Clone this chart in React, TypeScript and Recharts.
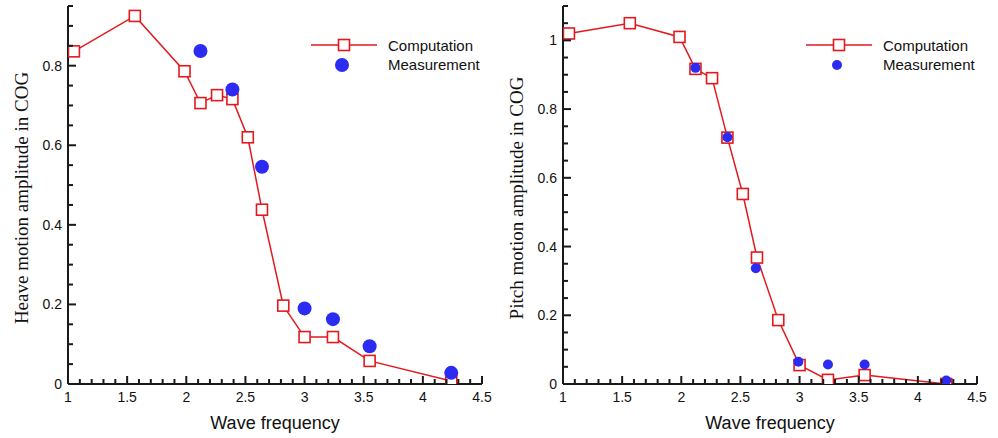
import { ComposedChart, Line, Scatter, XAxis, YAxis } from 'recharts'

const freqs = [1.05, 1.565, 1.985, 2.12, 2.26, 2.39, 2.52, 2.64, 2.82, 3.0, 3.24, 3.55, 4.24]
const heaveComp = [0.836, 0.925, 0.786, 0.706, 0.726, 0.716, 0.62, 0.438, 0.197, 0.118, 0.118, 0.058, 0.0075]
const pitchComp = [1.02, 1.05, 1.01, 0.917, 0.89, 0.717, 0.553, 0.368, 0.186, 0.055, 0.012, 0.026, 0.0]

const heaveMeasFreq = [2.12, 2.39, 2.64, 3.0, 3.24, 3.55, 4.24]
const heaveMeas = [0.837, 0.74, 0.546, 0.19, 0.163, 0.095, 0.028]
const pitchMeasFreq = [2.12, 2.39, 2.63, 2.99, 3.24, 3.55, 4.24]
const pitchMeas = [0.92, 0.718, 0.337, 0.065, 0.057, 0.057, 0.01]

const xTicks = [
  1, 1.1, 1.2, 1.3, 1.4, 1.5, 1.6, 1.7, 1.8, 1.9, 2, 2.1, 2.2, 2.3, 2.4, 2.5, 2.6, 2.7,
  2.8, 2.9, 3, 3.1, 3.2, 3.3, 3.4, 3.5, 3.6, 3.7, 3.8, 3.9, 4, 4.1, 4.2, 4.3, 4.4, 4.5,
]
const heaveTicks = [
  0, 0.05, 0.1, 0.15, 0.2, 0.25, 0.3, 0.35, 0.4, 0.45, 0.5, 0.55, 0.6, 0.65, 0.7, 0.75,
  0.8, 0.85, 0.9, 0.95,
]
const pitchTicks = [
  0, 0.05, 0.1, 0.15, 0.2, 0.25, 0.3, 0.35, 0.4, 0.45, 0.5, 0.55, 0.6, 0.65, 0.7, 0.75,
  0.8, 0.85, 0.9, 0.95, 1, 1.05, 1.1,
]

const RED = '#e3191e'
const BLUE = '#2b2bf2'
const AXIS = '#1a1a1a'
const SANS = '"Liberation Sans", Arial, sans-serif'
const SERIF = '"Liberation Serif", "Times New Roman", serif'

const onStep = (v: number, step: number) => Math.abs(v / step - Math.round(v / step)) < 1e-6

// tecplot style: ticks point into the plot
function XTick({ x, y, payload }: any) {
  const major = onStep(payload.value, 0.5)
  const len = major ? 8 : 5
  return (
    <g>
      <rect x={x - 1} y={y - len} width={2} height={len} fill={AXIS} />
      {major && (
        <text x={x} y={y + 18} textAnchor="middle" fontSize={14} fontFamily={SANS} fill="#111">
          {String(payload.value)}
        </text>
      )}
    </g>
  )
}

function YTick({ x, y, payload }: any) {
  const major = onStep(payload.value, 0.2)
  const len = major ? 8 : 5
  return (
    <g>
      <rect x={x} y={y - 1} width={len} height={2} fill={AXIS} />
      {major && (
        <text x={x - 6} y={y + 5} textAnchor="end" fontSize={14} fontFamily={SANS} fill="#111">
          {String(payload.value)}
        </text>
      )}
    </g>
  )
}

const Square = ({ cx, cy }: any) =>
  cx == null ? null : (
    <rect x={cx - 5.5} y={cy - 5.5} width={11} height={11} fill="#fff" stroke={RED} strokeWidth={1.6} />
  )

interface PanelProps {
  left: number
  comp: number[]
  measFreq: number[]
  meas: number[]
  yTicks: number[]
  yTitle: string
  dotR: number
  marginLeft: number
  marginRight: number
  legendX: number
}

const Y_AXIS_W = 40
const X_AXIS_H = 30

function Panel({ left, comp, measFreq, meas, yTicks, yTitle, dotR, marginLeft, marginRight, legendX }: PanelProps) {
  const compData = freqs.map((x, i) => ({ x, y: comp[i] }))
  const measData = measFreq.map((x, i) => ({ x, y: meas[i] }))
  const yMax = yTicks[yTicks.length - 1]

  return (
    <div style={{ position: 'absolute', left, top: 0, width: 499, height: 438 }}>
      <ComposedChart
        width={499}
        height={438}
        margin={{ top: 6, right: marginRight, bottom: 54 - X_AXIS_H, left: marginLeft - Y_AXIS_W }}
      >
        <XAxis
          type="number"
          dataKey="x"
          domain={[1, 4.5]}
          ticks={xTicks}
          interval={0}
          height={X_AXIS_H}
          tickSize={0}
          tickMargin={0}
          tick={(p: any) => <XTick {...p} />}
          axisLine={{ stroke: AXIS, strokeWidth: 2 }}
          allowDataOverflow
        />
        <YAxis
          type="number"
          dataKey="y"
          domain={[0, yMax]}
          ticks={yTicks}
          interval={0}
          width={Y_AXIS_W}
          tickSize={0}
          tickMargin={0}
          tick={(p: any) => <YTick {...p} />}
          axisLine={{ stroke: AXIS, strokeWidth: 2 }}
          allowDataOverflow
        />
        <Line
          data={compData}
          dataKey="y"
          stroke={RED}
          strokeWidth={1.5}
          dot={<Square />}
          activeDot={false}
          isAnimationActive={false}
        />
        <Scatter
          data={measData}
          dataKey="y"
          fill={BLUE}
          shape={(p: any) => <circle cx={p.cx} cy={p.cy} r={dotR} fill={BLUE} />}
          isAnimationActive={false}
        />
      </ComposedChart>

      <div
        style={{
          position: 'absolute', left: marginLeft - 46, top: 198, width: 0, height: 0,
        }}
      >
        <div
          style={{
            position: 'absolute', transform: 'translate(-50%, -50%) rotate(-90deg)',
            whiteSpace: 'nowrap', fontFamily: SERIF, fontSize: 19, color: '#111',
          }}
        >
          {yTitle}
        </div>
      </div>
      <div
        style={{
          position: 'absolute', left: marginLeft, width: 499 - marginLeft - marginRight, top: 413,
          textAlign: 'center', fontFamily: SANS, fontSize: 18, color: '#111',
        }}
      >
        Wave frequency
      </div>

      <svg style={{ position: 'absolute', left: legendX, top: 33 }} width={70} height={44}>
        <line x1={0} x2={66} y1={12} y2={12} stroke={RED} strokeWidth={1.5} />
        <rect x={27.5} y={6.5} width={11} height={11} fill="#fff" stroke={RED} strokeWidth={1.6} />
        <circle cx={31} cy={32} r={dotR} fill={BLUE} />
      </svg>
      <div
        style={{
          position: 'absolute', left: legendX + 77, top: 36, fontFamily: SANS, fontSize: 15,
          lineHeight: '19px', color: '#111',
        }}
      >
        <div>Computation</div>
        <div>Measurement</div>
      </div>
    </div>
  )
}

export default function App() {
  return (
    <div style={{ position: 'absolute', left: 0, top: 0, width: 998, height: 438, background: '#fff' }}>
      <Panel
        left={0}
        comp={heaveComp}
        measFreq={heaveMeasFreq}
        meas={heaveMeas}
        yTicks={heaveTicks}
        yTitle="Heave motion amplitude in COG"
        dotR={7}
        marginLeft={68}
        marginRight={17}
        legendX={311}
      />
      <Panel
        left={499}
        comp={pitchComp}
        measFreq={pitchMeasFreq}
        meas={pitchMeas}
        yTicks={pitchTicks}
        yTitle="Pitch motion amplitude in COG"
        dotR={5}
        marginLeft={64}
        marginRight={21}
        legendX={307}
      />
    </div>
  )
}
